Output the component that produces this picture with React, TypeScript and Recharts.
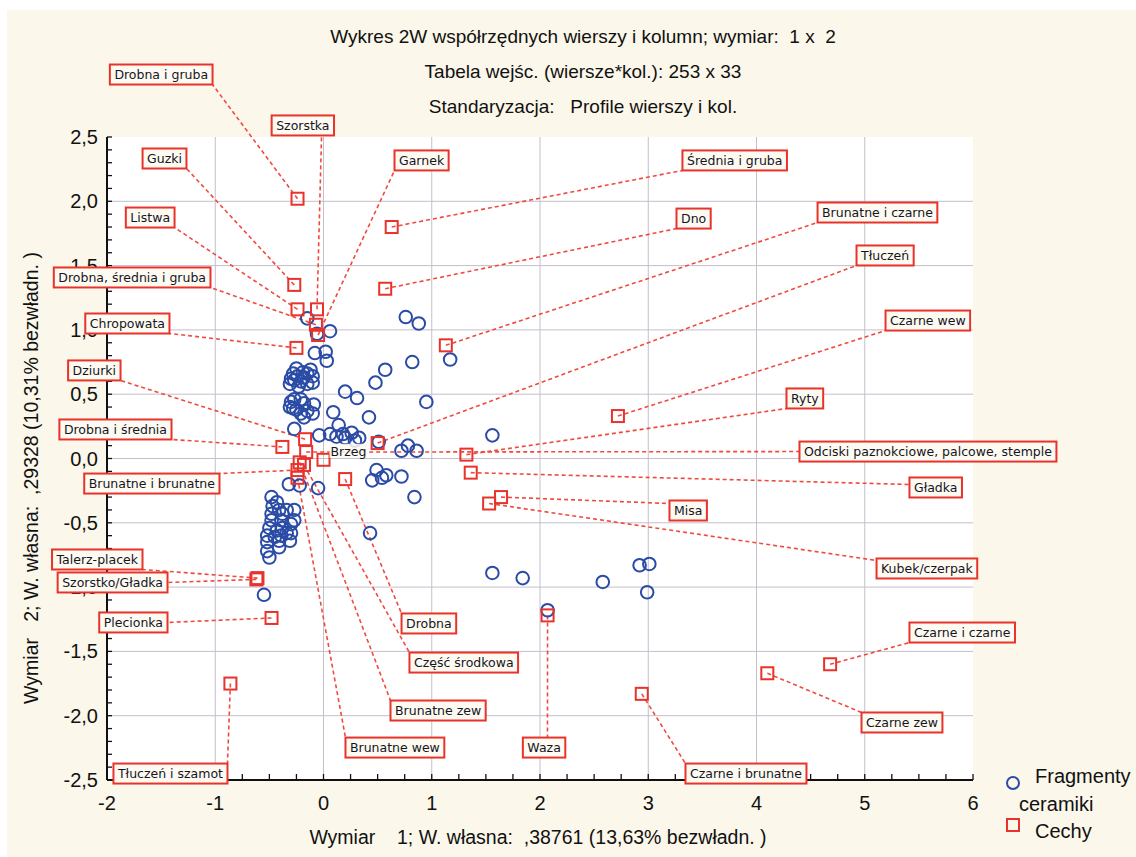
import React from "react";
import {
  ScatterChart,
  Scatter,
  XAxis,
  YAxis,
  ReferenceLine,
  ReferenceDot,
  CartesianGrid,
  Legend,
} from "recharts";

// Fragmenty ceramiki (wiersze)
const fragX = [
  0.76, 0.88, 0.06, -0.15, -0.06, -0.08, 0.02, 0.03, 0.82, 1.17, 0.57, 0.48, 0.2, 0.31, 0.95, 0.09, 0.42,
  -0.27, 0.14, -0.04, 0.06, 0.12, 0.18, 0.26, 0.29, 0.2, 0.33, 0.51, 1.56, 0.72, 0.78, 0.86, 0.49, 0.58,
  0.45, 0.54, 0.72, 0.84, -0.32, -0.22, -0.05, 0.43, -0.55,
  // upper cluster
  -0.28, -0.3, -0.31, -0.24, -0.21, -0.18, -0.12, -0.1, -0.1, -0.15, -0.23, -0.27, -0.19, -0.15, -0.25,
  // middle cluster
  -0.3, -0.28, -0.27, -0.21, -0.18, -0.15, -0.09, -0.1, -0.21, -0.25, -0.18, -0.31,
  // lower-left cluster
  -0.48, -0.47, -0.48, -0.48, -0.5, -0.52, -0.52, -0.52, -0.5, -0.43, -0.41, -0.38, -0.39, -0.38, -0.34,
  -0.41, -0.41, -0.31, -0.3, -0.27, -0.27, -0.34, -0.3, -0.45, -0.43, -0.39,
  // right, lower
  1.56, 1.84, 2.58, 2.92, 3.01, 2.99, 2.07,
];
const fragY = [
  1.1, 1.05, 0.99, 1.09, 0.97, 0.82, 0.83, 0.76, 0.75, 0.77, 0.69, 0.59, 0.52, 0.47, 0.44, 0.36, 0.32,
  0.23, 0.26, 0.18, 0.19, 0.17, 0.19, 0.2, 0.14, 0.16, 0.16, 0.13, 0.18, 0.06, 0.1, 0.06, -0.09, -0.13,
  -0.17, -0.15, -0.14, -0.3, -0.2, -0.21, -0.23, -0.58, -1.06,
  0.66, 0.62, 0.58, 0.64, 0.6, 0.63, 0.69, 0.64, 0.59, 0.58, 0.56, 0.61, 0.67, 0.66, 0.7,
  0.44, 0.39, 0.46, 0.46, 0.43, 0.37, 0.42, 0.35, 0.35, 0.38, 0.32, 0.4,
  -0.3, -0.37, -0.43, -0.48, -0.54, -0.6, -0.65, -0.72, -0.77, -0.34, -0.4, -0.43, -0.48, -0.54, -0.58,
  -0.64, -0.69, -0.64, -0.58, -0.48, -0.4, -0.4, -0.51, -0.61, -0.56, -0.6,
  -0.89, -0.93, -0.96, -0.83, -0.82, -1.04, -1.18,
];

// Cechy (kolumny)
const cechyNames = [
  "Drobna i gruba", "Szorstka", "Guzki", "Garnek", "Listwa", "Drobna, średnia i gruba", "Chropowata",
  "Dziurki", "Drobna i średnia", "Brunatne i brunatne", "Talerz-placek", "Szorstko/Gładka", "Plecionka",
  "Tłuczeń i szamot", "Średnia i gruba", "Dno", "Brunatne i czarne", "Tłuczeń", "Czarne wew", "Ryty",
  "Odciski paznokciowe, palcowe, stemple", "Gładka", "Misa", "Kubek/czerpak", "Czarne i czarne",
  "Czarne zew", "Czarne i brunatne", "Waza", "Brunatne wew", "Brunatne zew", "Część środkowa", "Drobna",
  "Brzeg",
];
const cechyX = [
  -0.24, -0.06, -0.27, -0.05, -0.24, -0.07, -0.25, -0.17, -0.38, -0.24, -0.61, -0.62, -0.48, -0.86, 0.63,
  0.57, 1.13, 0.5, 2.72, 1.32, -0.16, 1.36, 1.64, 1.53, 4.68, 4.1, 2.94, 2.07, -0.24, -0.22, -0.18, 0.2,
  0.0,
];
const cechyY = [
  2.02, 1.16, 1.35, 0.96, 1.16, 1.04, 0.86, 0.15, 0.09, -0.09, -0.93, -0.94, -1.24, -1.75, 1.8, 1.32,
  0.88, 0.12, 0.33, 0.03, 0.05, -0.11, -0.3, -0.35, -1.6, -1.67, -1.83, -1.22, -0.15, -0.03, -0.05, -0.16,
  -0.01,
];

// where each callout box is pinned (axis units) and which point of the box the line meets
const calloutX = [
  -1.025, -0.018, -1.266, 0.656, -1.376, -1.044, -1.423, -1.875, -1.404, -0.961, -1.672, -1.441, -1.441,
  -0.887, 3.316, 3.261, 4.564, 4.924, 5.192, 4.277, 4.397, 5.413, 3.196, 5.109, 5.413, 4.97, 3.344, 2.069,
  0.203, 0.619, 0.794, 0.721, null,
];
const calloutY = [
  2.908, 2.512, 2.255, 2.24, 1.796, 1.33, 0.972, 0.607, 0.148, -0.117, -0.863, -0.964, -1.275, -2.372,
  2.24, 1.788, 1.835, 1.501, 0.995, 0.389, 0.054, -0.202, -0.35, -0.793, -1.431, -1.975, -2.372, -2.17,
  -2.17, -1.882, -1.509, -1.205, null,
];
const pinFx = [1, 0.8, 1, 0, 1, 1, 1, 1, 1, 1, 1, 1, 1, 1, 0, 0, 0, 0, 0, 0, 0, 0, 0, 0, 0, 0, 0, 0.58, 0, 0, 0, 0, 0];
const pinFy = [1, 1, 1, 1, 1, 1, 1, 1, 1, 0, 1, 0.5, 0.5, 0, 1, 1, 1, 1, 1, 1, 0.5, 0.35, 0.15, 0.1, 1, 0, 0, 0, 0, 0, 0, 0, 0];

const xMajor = [-2, -1, 0, 1, 2, 3, 4, 5, 6];
const yMajor = [-2.5, -2, -1.5, -1, -0.5, 0, 0.5, 1, 1.5, 2, 2.5];
const xTicks: number[] = [];
xMajor.forEach((v, i) => {
  if (i === 0) return;
  const p = xMajor[i - 1];
  [0, 0.25, 0.5, 0.75].forEach((f) => xTicks.push(p + f));
});
xTicks.push(6);
const yTicks: number[] = [];
for (let i = 0; i <= 50; i++) yTicks.push(Math.round((-2.5 + i * 0.1) * 10) / 10);

const fragData = fragX.map((x, i) => ({ x, y: fragY[i] }));
const cechyData = cechyNames.map((name, i) => ({ name, x: cechyX[i], y: cechyY[i] }));

const RED = "#e8332c";
const BLUE = "#2a4ba6";
const CREAM = "#fbf7ea";
const GRID = "#c4bfcb";
const AXIS_FONT = "Arial, 'Liberation Sans', sans-serif";
const BOX_FONT = "'DejaVu Sans', Verdana, sans-serif";
const BOX_SIZE = 12.5;

const W = 1129;
const H = 847;
const PLOT = { top: 127, right: 163, bottom: 77, left: 100 };

const ctx = typeof document !== "undefined" ? document.createElement("canvas").getContext("2d") : null;
const textWidth = (t: string) => {
  if (!ctx) return t.length * 7.5;
  ctx.font = `${BOX_SIZE}px ${BOX_FONT}`;
  return ctx.measureText(t).width;
};

const fmt = (v: number) => String(v).replace(".", ",");

const BottomTick = (props: any) => {
  const { x, y, payload } = props;
  const v = payload.value;
  return (
    <g>
      <line x1={x} x2={x} y1={y} y2={y - 6} stroke="#111" strokeWidth={1.3} />
      {Number.isInteger(v) && (
        <text x={x} y={y + 30} textAnchor="middle" fontSize={20} fontFamily={AXIS_FONT} fill="#111">
          {fmt(v)}
        </text>
      )}
    </g>
  );
};
const TopTick = (props: any) => {
  const { x, y } = props;
  return <line x1={x} x2={x} y1={y} y2={y + 6} stroke="#111" strokeWidth={1.3} />;
};
const LeftTick = (props: any) => {
  const { x, y, payload } = props;
  const v = payload.value;
  const major = Math.abs(v * 2 - Math.round(v * 2)) < 1e-6;
  return (
    <g>
      <line x1={x} x2={x + 5} y1={y} y2={y} stroke="#111" strokeWidth={1.3} />
      {major && (
        <text x={x - 9} y={y + 7} textAnchor="end" fontSize={20} fontFamily={AXIS_FONT} fill="#111">
          {v.toFixed(1).replace(".", ",")}
        </text>
      )}
    </g>
  );
};
const RightTick = (props: any) => {
  const { x, y } = props;
  return <line x1={x} x2={x - 5} y1={y} y2={y} stroke="#111" strokeWidth={1.3} />;
};

const Circle = (p: any) => <circle cx={p.cx} cy={p.cy} r={6.3} fill="none" stroke={BLUE} strokeWidth={2} />;
const Square = (p: any) => (
  <rect x={p.cx - 6} y={p.cy - 6} width={12} height={12} fill="none" stroke={RED} strokeWidth={2} />
);

const CalloutBox = ({ cx, cy, text, fx, fy }: any) => {
  const w = textWidth(text) + 9;
  const h = 20;
  const left = cx - fx * w;
  const top = cy - fy * h;
  return (
    <g>
      <rect x={left} y={top} width={w} height={h} fill="#fdfaf2" stroke={RED} strokeWidth={2} />
      <text x={left + 4.5} y={top + 14.5} fontSize={BOX_SIZE} fontFamily={BOX_FONT} fill="#15151f">
        {text}
      </text>
    </g>
  );
};
const PlainLabel = ({ cx, cy, text }: any) => {
  const w = textWidth(text);
  return (
    <g>
      <rect x={cx + 6} y={cy - 16} width={w + 2} height={14} fill="#fdfaf2" opacity={0.85} />
      <text x={cx + 7} y={cy - 4} fontSize={BOX_SIZE} fontFamily={BOX_FONT} fill="#15151f">
        {text}
      </text>
    </g>
  );
};

const LegendBox = () => (
  <div style={{ position: "relative", width: 140, height: 90, fontFamily: AXIS_FONT, fontSize: 20, color: "#111" }}>
    <svg width={140} height={90} style={{ position: "absolute", left: 0, top: 0 }}>
      <circle cx={13} cy={20} r={6} fill="none" stroke={BLUE} strokeWidth={2} />
      <rect x={7} y={56} width={12} height={12} fill="none" stroke={RED} strokeWidth={2} />
    </svg>
    <div style={{ position: "absolute", left: 35, top: 1, lineHeight: "24px" }}>Fragmenty</div>
    <div style={{ position: "absolute", left: 19, top: 29, lineHeight: "24px" }}>ceramiki</div>
    <div style={{ position: "absolute", left: 35, top: 56, lineHeight: "24px" }}>Cechy</div>
  </div>
);

const titleStyle: React.CSSProperties = {
  position: "absolute",
  left: 0,
  width: 1166,
  textAlign: "center",
  fontFamily: AXIS_FONT,
  fontSize: 19,
  lineHeight: "22px",
  color: "#111",
  whiteSpace: "pre",
};

export default function App() {
  return (
    <div style={{ position: "absolute", left: 0, top: 0, width: 1136, height: 857, background: "#fff", overflow: "hidden" }}>
      <div style={{ position: "absolute", left: 7, top: 10, width: W, height: H, background: CREAM }}>
        <ScatterChart width={W} height={H} margin={{ top: PLOT.top, right: PLOT.right, bottom: PLOT.bottom - 40, left: PLOT.left - 60 }}>
          <CartesianGrid fill="#ffffff" horizontal={false} vertical={false} />
          <XAxis
            type="number"
            dataKey="x"
            domain={[-2, 6]}
            ticks={xTicks}
            interval={0}
            height={40}
            tickSize={0}
            tickMargin={0}
            tickLine={false}
            axisLine={{ stroke: "#111", strokeWidth: 2 }}
            tick={<BottomTick />}
            allowDataOverflow
          />
          <XAxis
            xAxisId="top"
            orientation="top"
            type="number"
            domain={[-2, 6]}
            ticks={xTicks}
            interval={0}
            height={0}
            tickSize={0}
            tickMargin={0}
            tickLine={false}
            axisLine={{ stroke: "#111", strokeWidth: 2 }}
            tick={<TopTick />}
            allowDataOverflow
          />
          <YAxis
            type="number"
            dataKey="y"
            domain={[-2.5, 2.5]}
            ticks={yTicks}
            interval={0}
            width={60}
            tickSize={0}
            tickMargin={0}
            tickLine={false}
            axisLine={{ stroke: "#111", strokeWidth: 2 }}
            tick={<LeftTick />}
            allowDataOverflow
          />
          <YAxis
            yAxisId="right"
            orientation="right"
            type="number"
            domain={[-2.5, 2.5]}
            ticks={yTicks}
            interval={0}
            width={0}
            tickSize={0}
            tickMargin={0}
            tickLine={false}
            axisLine={{ stroke: "#111", strokeWidth: 2 }}
            tick={<RightTick />}
            allowDataOverflow
          />
          {xMajor.slice(1, -1).map((v) => (
            <ReferenceLine key={`gx${v}`} x={v} stroke={GRID} strokeWidth={1} />
          ))}
          {yMajor.slice(1, -1).map((v) => (
            <ReferenceLine key={`gy${v}`} y={v} stroke={GRID} strokeWidth={1} />
          ))}
          {cechyNames.map((n, i) =>
            calloutX[i] == null ? null : (
              <ReferenceLine
                key={`cl${i}`}
                segment={[
                  { x: cechyX[i], y: cechyY[i] },
                  { x: calloutX[i] as number, y: calloutY[i] as number },
                ]}
                stroke="#f04a3f"
                strokeWidth={1.6}
                strokeDasharray="4 3"
                ifOverflow="visible"
              />
            )
          )}
          <Scatter name="Fragmenty ceramiki" data={fragData} shape={Circle} isAnimationActive={false} />
          <Scatter name="Cechy" data={cechyData} shape={Square} isAnimationActive={false} />
          <Legend
            layout="vertical"
            align="center"
            verticalAlign="middle"
            wrapperStyle={{ left: 993, top: 753, width: 140, height: 90 }}
            content={() => <LegendBox />}
          />
        </ScatterChart>
      </div>
      {/* callout boxes sit above the axis labels, so they get their own layer on the same scales */}
      <div style={{ position: "absolute", left: 7, top: 10, width: W, height: H, pointerEvents: "none" }}>
        <ScatterChart width={W} height={H} margin={PLOT}>
          <XAxis type="number" dataKey="x" domain={[-2, 6]} hide height={0} allowDataOverflow />
          <YAxis type="number" dataKey="y" domain={[-2.5, 2.5]} hide width={0} allowDataOverflow />
          <Scatter data={[]} isAnimationActive={false} />
          {cechyNames.map((n, i) =>
            calloutX[i] == null ? (
              <ReferenceDot
                key={`lb${i}`}
                x={cechyX[i]}
                y={cechyY[i]}
                ifOverflow="visible"
                shape={(p: any) => <PlainLabel cx={p.cx} cy={p.cy} text={n} />}
              />
            ) : (
              <ReferenceDot
                key={`lb${i}`}
                x={calloutX[i] as number}
                y={calloutY[i] as number}
                ifOverflow="visible"
                shape={(p: any) => <CalloutBox cx={p.cx} cy={p.cy} text={n} fx={pinFx[i]} fy={pinFy[i]} />}
              />
            )
          )}
        </ScatterChart>
      </div>
      <div style={{ ...titleStyle, top: 26 }}>Wykres 2W współrzędnych wierszy i kolumn; wymiar:  1 x  2</div>
      <div style={{ ...titleStyle, top: 61 }}>Tabela wejśc. (wiersze*kol.): 253 x 33</div>
      <div style={{ ...titleStyle, top: 96 }}>Standaryzacja:   Profile wierszy i kol.</div>
      <div
        style={{
          position: "absolute",
          left: 0,
          top: 826,
          width: 1076,
          textAlign: "center",
          fontFamily: AXIS_FONT,
          fontSize: 19.5,
          lineHeight: "22px",
          color: "#111",
          whiteSpace: "pre",
        }}
      >
        {"Wymiar    1; W. własna:  ,38761 (13,63% bezwładn. )"}
      </div>
      <div
        style={{
          position: "absolute",
          left: 31 - 300,
          top: 478 - 11,
          width: 600,
          height: 22,
          textAlign: "center",
          fontFamily: AXIS_FONT,
          fontSize: 19.5,
          lineHeight: "22px",
          color: "#111",
          whiteSpace: "pre",
          transform: "rotate(-90deg)",
        }}
      >
        {"Wymiar   2; W. własna:  ,29328 (10,31% bezwładn. )"}
      </div>
    </div>
  );
}
